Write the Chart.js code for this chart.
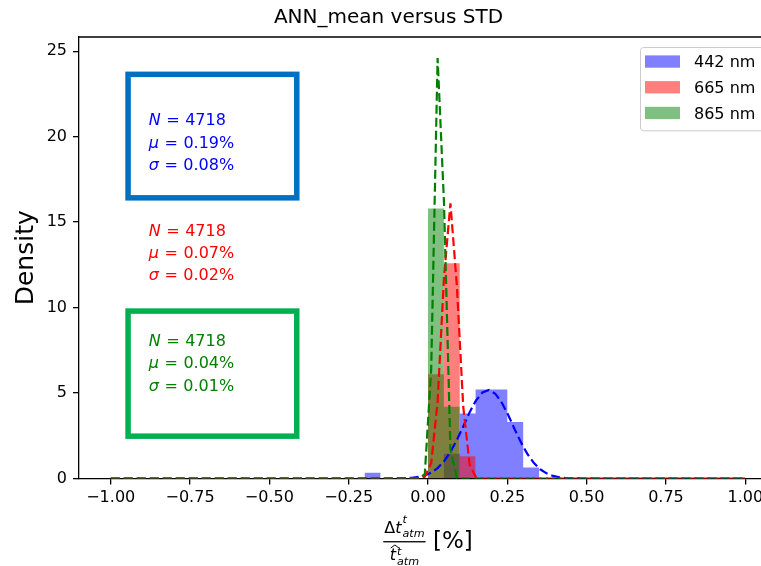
<!DOCTYPE html>
<html>
<head>
<meta charset="utf-8">
<script src="https://cdn.jsdelivr.net/npm/chart.js@4/dist/chart.umd.min.js"></script>
<style>
html, body { margin: 0; padding: 0; background: #fff; overflow: hidden; }
#wrap { width: 800px; height: 566px; }
</style>
</head>
<body>
<div id="wrap"><canvas id="myChart" width="800" height="566"></canvas></div>
<script>
'use strict';
const FONT = "'DejaVu Sans', sans-serif";

// series names (legend)
const seriesLabels = ['442 nm', '665 nm', '865 nm'];

// histogram bins (bin centres, width 0.05) and densities
const binWidth = 0.05;
const blueBins = [-0.175, 0.075, 0.125, 0.175, 0.225, 0.275, 0.325];
const blueDensity = [0.33, 1.45, 3.8, 5.2, 5.2, 3.3, 0.65];
const redBins = [0.025, 0.075, 0.125];
const redDensity = [6.1, 12.6, 1.3];
const greenBins = [0.025, 0.075];
const greenDensity = [15.8, 4.2];

// dashed fitted curves
const blueCurveX = [-1, -0.1313, -0.1111, -0.0909, -0.0707, -0.0505, -0.0303, -0.0101, 0.0101, 0.0303, 0.0505, 0.0707, 0.0909, 0.1111, 0.1313, 0.1515, 0.1717, 0.1919, 0.2121, 0.2323, 0.2525, 0.2727, 0.2929, 0.3131, 0.3333, 0.3535, 0.3737, 0.3939, 0.4141, 0.4343, 0.4545, 0.4747, 0.4949, 1];
const blueCurveY = [0, 0, 0.003, 0.008, 0.02, 0.04, 0.09, 0.18, 0.34, 0.61, 1.0, 1.56, 2.25, 3.05, 3.88, 4.57, 5.03, 5.18, 4.96, 4.44, 3.73, 2.9, 2.12, 1.44, 0.92, 0.54, 0.3, 0.15, 0.075, 0.03, 0.01, 0.003, 0, 0];
const redCurveX = [-1, -0.0303, -0.0101, 0.0101, 0.0303, 0.0505, 0.0707, 0.0909, 0.1111, 0.1313, 0.1515, 0.1717, 1];
const redCurveY = [0, 0, 0.1, 0.9, 4.5, 11.8, 16.1, 11.3, 4.2, 0.8, 0.07, 0, 0];
const greenCurveX = [-1, -0.0303, -0.0101, 0.0101, 0.0303, 0.0505, 0.0707, 0.0909, 0.1111, 1];
const greenCurveY = [0, 0, 0.25, 6.4, 24.6, 16.1, 1.7, 0.03, 0, 0];

// stats text
const statN = ['4718', '4718', '4718'];
const statMu = ['0.19%', '0.07%', '0.04%'];
const statSigma = ['0.08%', '0.02%', '0.01%'];

// tick labels
const xTicks = [-1, -0.75, -0.5, -0.25, 0, 0.25, 0.5, 0.75, 1];
const yTicks = [0, 5, 10, 15, 20, 25];

const fillColors = ['rgba(0,0,255,0.5)', 'rgba(255,0,0,0.5)', 'rgba(0,128,0,0.5)'];
const lineColors = ['#0000ff', '#ff0000', '#008000'];
const textColors = ['#0000ff', '#ff0000', '#008000'];

function pts(xs, ys) {
  return xs.map((x, i) => ({x: x, y: ys[i]}));
}

// outline of the histogram bars, so each series is one filled shape (no seams)
function histOutline(centres, dens) {
  const out = [];
  centres.forEach((c, i) => {
    const l = c - binWidth / 2, r = c + binWidth / 2;
    out.push({x: l, y: 0}, {x: l, y: dens[i]}, {x: r, y: dens[i]}, {x: r, y: 0});
  });
  return out;
}

function histSet(i, xs, ys, order) {
  return {
    label: seriesLabels[i], data: histOutline(xs, ys),
    backgroundColor: fillColors[i], borderWidth: 0, borderColor: 'transparent',
    pointRadius: 0, fill: 'origin', tension: 0, order: order
  };
}

function curveSet(i, xs, ys, order) {
  return {
    label: '', data: pts(xs, ys),
    borderColor: lineColors[i], borderWidth: 2.2, borderDash: [9, 4],
    pointRadius: 0, fill: false, tension: 0, order: order
  };
}

// frame (top/right spines), stats text, boxes, legend, x label
const decorPlugin = {
  id: 'decor',
  afterDraw(chart) {
    const ctx = chart.ctx;
    const a = chart.chartArea;
    const w = a.right - a.left, h = a.bottom - a.top;
    ctx.save();

    // spines
    ctx.strokeStyle = '#000';
    ctx.lineWidth = 1.3;
    ctx.beginPath();
    ctx.moveTo(a.left, a.top);
    ctx.lineTo(a.right, a.top);
    ctx.lineTo(a.right, a.bottom);
    ctx.stroke();

    // stats blocks
    const tx = a.left + 0.1 * w;
    const syms = ['N', '\u03bc', '\u03c3'];
    for (let i = 0; i < 3; i++) {
      const base = a.top + h * (0.2 + 0.25 * i);
      const vals = [statN[i], statMu[i], statSigma[i]];
      ctx.fillStyle = textColors[i];
      ctx.textBaseline = 'alphabetic';
      ctx.textAlign = 'left';
      for (let j = 0; j < 3; j++) {
        const y = base + j * 22.4;
        let x = tx;
        ctx.font = 'italic 16px ' + FONT;
        ctx.fillText(syms[j], x, y);
        x += ctx.measureText(syms[j]).width + 5.5;
        ctx.font = '16px ' + FONT;
        ctx.fillText('=', x, y);
        x += ctx.measureText('=').width + 5.5;
        ctx.fillText(vals[j], x, y);
      }
    }

    // highlight boxes
    ctx.lineWidth = 5.5;
    ctx.strokeStyle = '#0070c0';
    ctx.strokeRect(a.left + 0.0703 * w, a.top + 0.0846 * h, 0.2417 * w, 0.2797 * h);
    ctx.strokeStyle = '#00b050';
    ctx.strokeRect(a.left + 0.0703 * w, a.top + 0.6208 * h, 0.2417 * w, 0.2833 * h);

    // legend
    const lx = a.right - 137, ly = a.top + 10, lw = 130, lh = 83.3;
    ctx.lineWidth = 1;
    ctx.strokeStyle = '#cccccc';
    ctx.fillStyle = 'rgba(255,255,255,0.8)';
    ctx.beginPath();
    ctx.roundRect(lx + 0.5, ly + 0.5, lw, lh, 3);
    ctx.fill();
    ctx.stroke();
    ctx.font = '16px ' + FONT;
    for (let i = 0; i < 3; i++) {
      const cy = ly + 14.4 + i * 25.7;
      ctx.fillStyle = fillColors[i];
      ctx.fillRect(lx + 5, cy - 6, 35, 12.3);
      ctx.fillStyle = '#000';
      ctx.fillText(seriesLabels[i], lx + 54, cy + 5.8);
    }

    // x label: fraction + [%]
    const cx = (a.left + a.right) / 2;
    const main = 16, scr = 11.2;
    ctx.font = main + 'px ' + FONT;
    const wD = ctx.measureText('\u0394').width;
    ctx.font = 'italic ' + main + 'px ' + FONT;
    const wt = ctx.measureText('t').width;
    ctx.font = 'italic ' + scr + 'px ' + FONT;
    const wsub = ctx.measureText('atm').width;
    const numW = wD + wt + 1 + wsub;
    const denW = wt + 1 + wsub;
    const fracW = Math.max(numW, denW) + 2;
    ctx.font = '23px ' + FONT;
    const pctW = ctx.measureText(' [%]').width;
    const x0 = cx - (fracW + pctW) / 2;
    ctx.fillStyle = '#000';
    // numerator
    const nb = a.bottom + 54.8;
    let nx = x0 + (fracW - numW) / 2;
    ctx.font = main + 'px ' + FONT;
    ctx.fillText('\u0394', nx, nb);
    nx += wD;
    ctx.font = 'italic ' + main + 'px ' + FONT;
    ctx.fillText('t', nx, nb);
    nx += wt + 1;
    ctx.font = 'italic ' + scr + 'px ' + FONT;
    ctx.fillText('t', nx, nb - 10.5);
    ctx.fillText('atm', nx, nb + 3.8);
    // bar
    ctx.fillRect(x0, a.bottom + 62.6, fracW, 1.3);
    // denominator
    const db = a.bottom + 81.5;
    let dx = x0 + (fracW - denW) / 2;
    ctx.font = 'italic ' + main + 'px ' + FONT;
    ctx.fillText('t', dx, db);
    ctx.lineWidth = 1;
    ctx.strokeStyle = '#000';
    ctx.beginPath();
    ctx.moveTo(dx + 1, db - 12);
    ctx.lineTo(dx + 1 + wt / 2 + 1, db - 15);
    ctx.lineTo(dx + wt + 3, db - 12);
    ctx.stroke();
    dx += wt + 1;
    ctx.font = 'italic ' + scr + 'px ' + FONT;
    ctx.fillText('t', dx, db - 5);
    ctx.fillText('atm', dx, db + 5);
    // [%]
    ctx.font = '23px ' + FONT;
    ctx.fillText(' [%]', x0 + fracW, a.bottom + 69.8);

    ctx.restore();
  }
};

const ctx = document.getElementById('myChart').getContext('2d');
const chart = new Chart(ctx, {
  type: 'line',
  data: {
    datasets: [
      histSet(0, blueBins, blueDensity, 5),
      histSet(1, redBins, redDensity, 4),
      histSet(2, greenBins, greenDensity, 3),
      curveSet(0, blueCurveX, blueCurveY, 2),
      curveSet(1, redCurveX, redCurveY, 1),
      curveSet(2, greenCurveX, greenCurveY, 0)
    ]
  },
  options: {
    responsive: false,
    animation: false,
    devicePixelRatio: 1,
    layout: {padding: {left: 0, right: 23, top: 0, bottom: 0}},
    plugins: {
      legend: {display: false},
      tooltip: {enabled: false},
      title: {
        display: true, text: 'ANN_mean versus STD', color: '#000',
        font: {family: FONT, size: 20, weight: 'normal'},
        padding: {top: 6, bottom: 7}
      }
    },
    scales: {
      x: {
        type: 'linear', min: -1.1, max: 1.1, offset: false,
        afterBuildTicks: s => { s.ticks = xTicks.map(v => ({value: v})); },
        afterFit: s => { s.height = 87.5; },
        ticks: {
          color: '#000', font: {family: FONT, size: 16}, padding: 4, maxRotation: 0, autoSkip: false,
          callback: v => (v < 0 ? '\u2212' : '') + Math.abs(v).toFixed(2)
        },
        grid: {drawOnChartArea: false, drawTicks: true, tickLength: 6, color: '#000', lineWidth: 1.3, offset: false},
        border: {display: true, color: '#000', width: 1.3}
      },
      y: {
        min: 0, max: 25.83,
        afterBuildTicks: s => { s.ticks = yTicks.map(v => ({value: v})); },
        afterFit: s => { s.width = 79; },
        ticks: {color: '#000', font: {family: FONT, size: 16}, padding: 6},
        grid: {drawOnChartArea: false, drawTicks: true, tickLength: 6, color: '#000', lineWidth: 1.3},
        border: {display: true, color: '#000', width: 1.3},
        title: {
          display: true, text: 'Density', color: '#000',
          font: {family: FONT, size: 25}, padding: {top: 11, bottom: 0}
        }
      }
    }
  },
  plugins: [decorPlugin]
});
</script>
</body>
</html>
